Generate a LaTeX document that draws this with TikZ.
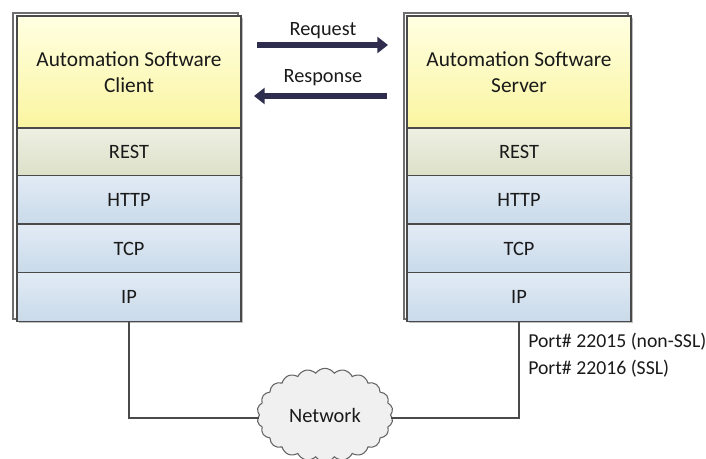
\documentclass[tikz,border=0pt]{standalone}
\usepackage{fontspec}
\setmainfont{Carlito}
\usetikzlibrary{shapes.symbols,arrows.meta,shadows}
\definecolor{yTop}{HTML}{FFFFE2}
\definecolor{yBot}{HTML}{FAF5A0}
\definecolor{gTop}{HTML}{EEF0E2}
\definecolor{gBot}{HTML}{DCE0C8}
\definecolor{bTop}{HTML}{E2EBF5}
\definecolor{bBot}{HTML}{C9DAEA}
\definecolor{edge}{HTML}{4A4A4A}
\definecolor{navy}{HTML}{2E2D4D}
\definecolor{txt}{HTML}{1A1A1A}
\tikzset{
  layer/.style={draw=edge, line width=1.2pt, minimum width=168pt, inner sep=0pt,
    shading=axis, shading angle=0, text=txt, font=\fontsize{15.3}{18}\selectfont, align=center,
    drop shadow={shadow xshift=1.2pt, shadow yshift=-1.2pt, opacity=0.25, fill=black}},
  appbox/.style={layer, top color=yTop, bottom color=yBot, minimum height=84pt,
    font=\fontsize{16}{19.5}\selectfont},
  restbox/.style={layer, top color=gTop, bottom color=gBot, minimum height=36pt},
  netbox/.style={layer, top color=bTop, bottom color=bBot, minimum height=36.5pt},
  frame/.style={draw=edge!80, line width=0.9pt},
  msg/.style={draw=navy, line width=3.8pt, -{Triangle[length=8pt,width=12pt]}},
  lbl/.style={text=txt, font=\fontsize{15.2}{18}\selectfont, inner sep=0pt},
  wire/.style={draw=edge, line width=1.5pt},
}
\begin{document}
\begin{tikzpicture}[x=0.75pt,y=-0.75pt]
\useasboundingbox (0,0) rectangle (706,459);
% back frames
\draw[frame] (13,13) rectangle (238,319);
\draw[frame] (404,13) rectangle (628,319);
% client stack
\node[appbox]  (capp)  at (129,72)    {Automation Software\\Client};
\node[restbox] (crest) at (129,152)   {REST};
\node[netbox]  (chttp) at (129,200)   {HTTP};
\node[netbox]  (ctcp)  at (129,248.5) {TCP};
\node[netbox]  (cip)   at (129,297)   {IP};
% server stack
\node[appbox]  (sapp)  at (519,72)    {Automation Software\\Server};
\node[restbox] (srest) at (519,152)   {REST};
\node[netbox]  (shttp) at (519,200)   {HTTP};
\node[netbox]  (stcp)  at (519,248.5) {TCP};
\node[netbox]  (sip)   at (519,297)   {IP};
% messages
\coordinate (rqA) at (257,45);
\coordinate (rqB) at (388,45);
\coordinate (rsA) at (387,96);
\coordinate (rsB) at (254,96);
\draw[msg] (rqA) -- (rqB);
\draw[msg] (rsA) -- (rsB);
\node[lbl] (req) at (323,31) {Request};
\node[lbl] (resp) at (323,78) {Response};
% network cloud
\node[cloud, cloud puffs=22, cloud puff arc=110, aspect=1.5, draw=edge!85, line width=0.8pt,
  fill=black!6, minimum width=102pt, minimum height=70pt, text=txt,
  font=\fontsize{15.3}{18}\selectfont] (net) at (325,415) {Network};
\draw[wire] (cip.south) |- ([yshift=-2pt]net.west);
\draw[wire] (sip.south) |- ([yshift=-2pt]net.east);
% port text
\node[lbl, anchor=north west, align=left, font=\fontsize{14.8}{20}\selectfont] (port) at (528,333)
  {Port\# 22015 (non-SSL)\\Port\# 22016 (SSL)};
\end{tikzpicture}
\end{document}
